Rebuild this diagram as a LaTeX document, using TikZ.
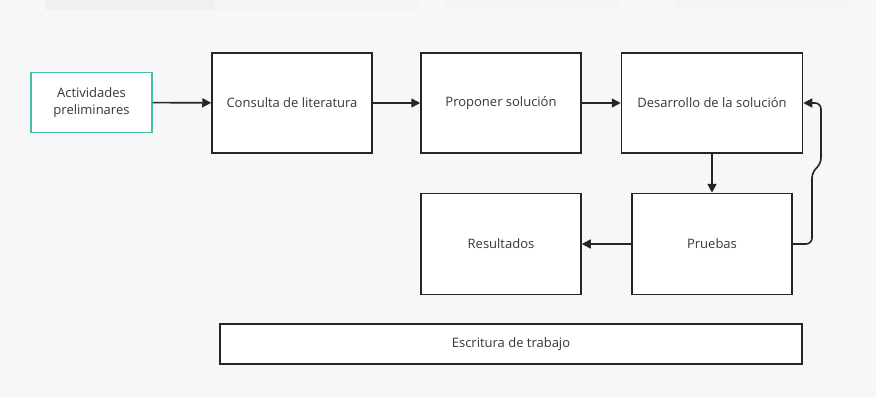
\documentclass[tikz,border=0pt]{standalone}
\usepackage{fontspec}
\setmainfont{Open Sans}
\usetikzlibrary{arrows.meta}
\definecolor{tealb}{RGB}{70,190,170}
\definecolor{txt}{RGB}{55,55,55}
\begin{document}
\begin{tikzpicture}[x=1pt,y=-1pt,
  box/.style={draw=black!85, line width=1.5pt, fill=white, inner sep=0pt, text=txt,
    font=\fontsize{13}{17}\selectfont, align=center},
  arr/.style={draw=black!85, line width=1.6pt, -{Triangle[length=9pt,width=9pt]}}]
\fill[black!3] (0,0) rectangle (876,397);
\useasboundingbox (0,0) rectangle (876,397);
\fill[black!6] (45,0) rectangle (215,10);
\fill[black!4] (215,0) rectangle (420,12);
\fill[black!4] (445,0) rectangle (620,10);
\fill[black!4] (675,0) rectangle (850,10);
\node[box, draw=tealb, minimum width=121pt, minimum height=60pt] (ac) at (91.5,102.5) {Actividades\\preliminares};
\node[box, minimum width=160pt, minimum height=100pt] (co) at (292,103) {Consulta de literatura};
\node[box, minimum width=160pt, minimum height=100pt] (pp) at (501,103) {Proponer solución};
\node[box, minimum width=181pt, minimum height=100pt] (de) at (712,103) {Desarrollo de la solución};
\node[box, minimum width=160pt, minimum height=101pt] (re) at (501,244) {Resultados};
\node[box, minimum width=160pt, minimum height=101pt] (pr) at (712,244) {Pruebas};
\node[box, minimum width=582pt, minimum height=40pt] (es) at (511,344) {Escritura de trabajo};
\coordinate (f1) at (812,172);
\coordinate (f2) at (821,164);
\draw[arr] (ac) -- (co);
\draw[arr] (co) -- (pp);
\draw[arr] (pp) -- (de);
\draw[arr] (de) -- (pr);
\draw[arr] (pr) -- (re);
\draw[arr, rounded corners=6pt] (pr.east) -| (f1) -- (f2) |- (de.east);
\end{tikzpicture}
\end{document}
